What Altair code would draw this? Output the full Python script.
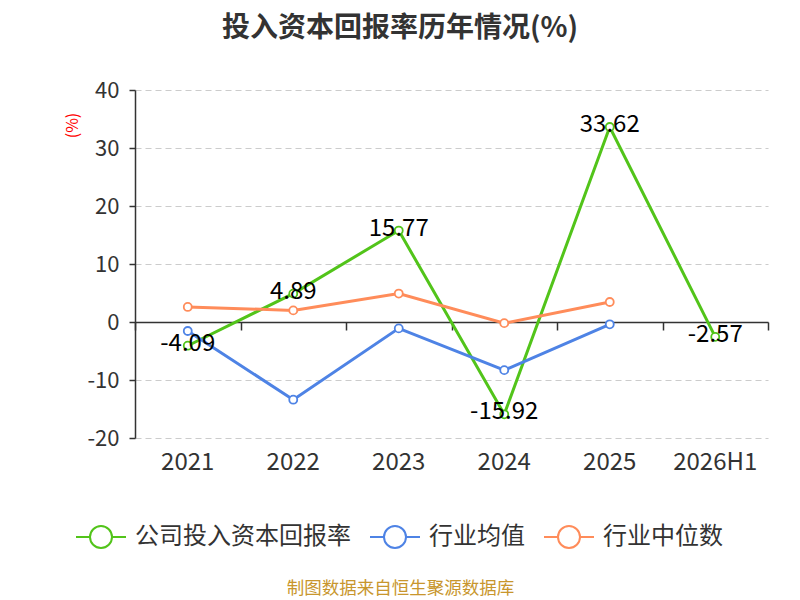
import altair as alt
import pandas as pd

years = ["2021", "2022", "2023", "2024", "2025", "2026H1"]
company = [-4.09, 4.89, 15.77, -15.92, 33.62, -2.57]
ind_mean = [-1.55, -13.4, -1.1, -8.3, -0.4, None]
ind_median = [2.6, 2.0, 4.9, -0.2, 3.45, None]

series_names = ["公司投入资本回报率", "行业均值", "行业中位数"]
series_colors = ["#52c41a", "#4e83e5", "#ff8c5a"]

rows = []
for name, vals in zip(series_names, [company, ind_mean, ind_median]):
    for y, v in zip(years, vals):
        if v is not None:
            rows.append({"year": y, "value": v, "series": name})
df = pd.DataFrame(rows)
df_company = df[df["series"] == series_names[0]].copy()
df_company["label"] = df_company["value"].map(lambda v: f"{v:.2f}")

FONT = "Noto Sans CJK SC"

xscale = alt.Scale(type="band", domain=years, paddingInner=0, paddingOuter=0)
yscale = alt.Scale(domain=[-20, 40], nice=False)

yaxis = alt.Axis(
    values=[-20, -10, 0, 10, 20, 30, 40],
    labelExpr="'' + datum.value",
    labelFontSize=22, labelColor="#333333", labelFont=FONT, labelPadding=10,
    tickSize=6, tickColor="#333333", tickWidth=1.5,
    domainColor="#333333", domainWidth=1.5,
    grid=True, gridDash=[6, 4], gridColor="#cccccc", gridWidth=1.2,
    title="(%)", titleColor="red", titleFontSize=16, titleFontWeight="normal",
    titleFont=FONT, titleX=-63, titleY=35, titleAlign="center", titleBaseline="middle",
    titleAngle=270,
)

xaxis_labels = alt.Axis(
    orient="bottom",
    labelFontSize=24, labelColor="#333333", labelFont=FONT, labelPadding=12, labelAngle=0,
    domain=False, ticks=False, grid=False,
    title="制图数据来自恒生聚源数据库", titleFontSize=17.5, titleColor="#c8962d",
    titleFontWeight="normal", titleFont=FONT, titleX=265, titleY=150,
    titleAlign="center", titleBaseline="middle",
)

xaxis_zero = alt.Axis(
    orient="bottom", offset=-116, labels=False, ticks=True, tickBand="extent",
    tickSize=8, tickColor="#333333", tickWidth=1.5,
    domain=True, domainColor="#333333", domainWidth=1.5, grid=False, title=None,
)

color = alt.Color(
    "series:N",
    scale=alt.Scale(domain=series_names, range=series_colors),
    sort=series_names,
    legend=alt.Legend(
        title=None, orient="none", legendX=-60, legendY=421, direction="horizontal",
        labelFontSize=24, labelColor="#333333", labelFont=FONT, labelOffset=8,
        labelLimit=0, columnPadding=15,
        symbolType="M-1,0H-0.44M0.44,0H1M0.44,0A0.44,0.44 0 1,1 -0.44,0A0.44,0.44 0 1,1 0.44,0",
        symbolSize=2500, symbolStrokeWidth=2, symbolFillColor="white",
    ),
)

base = alt.Chart(df)

zero_layer = base.mark_line(strokeOpacity=0).encode(
    x=alt.X("year:N", scale=xscale, axis=xaxis_zero, bandPosition=0.5),
    y=alt.Y("value:Q", scale=yscale, axis=yaxis),
    detail="series:N",
)

lines = base.mark_line(strokeWidth=3).encode(
    x=alt.X("year:N", scale=xscale, axis=xaxis_labels, bandPosition=0.5),
    y=alt.Y("value:Q", scale=yscale),
    color=color,
)

points = base.mark_point(filled=True, fill="white", size=64, strokeWidth=1.8, opacity=1).encode(
    x=alt.X("year:N", scale=xscale, axis=None, bandPosition=0.5),
    y=alt.Y("value:Q", scale=yscale),
    stroke=alt.Stroke("series:N", scale=alt.Scale(domain=series_names, range=series_colors), legend=None),
)

texts = alt.Chart(df_company).mark_text(
    fontSize=24, color="black", font=FONT, baseline="middle", dy=-2
).encode(
    x=alt.X("year:N", scale=xscale, axis=None, bandPosition=0.5),
    y=alt.Y("value:Q", scale=yscale),
    text="label:N",
)

chart = alt.layer(zero_layer, lines, points, texts).resolve_axis(x="independent").properties(
    width=633, height=348,
    autosize=alt.AutoSizeParams(type="none"),
    padding={"left": 127, "top": 82, "right": 24, "bottom": 160},
    title=alt.TitleParams(
        "投入资本回报率历年情况(%)", fontSize=28, fontWeight="bold", color="#333333",
        font=FONT, anchor="middle", dx=-51.5, offset=36,
    ),
).configure_view(stroke=None)

chart.save("out.html", embed_options={"renderer": "svg", "actions": False})
